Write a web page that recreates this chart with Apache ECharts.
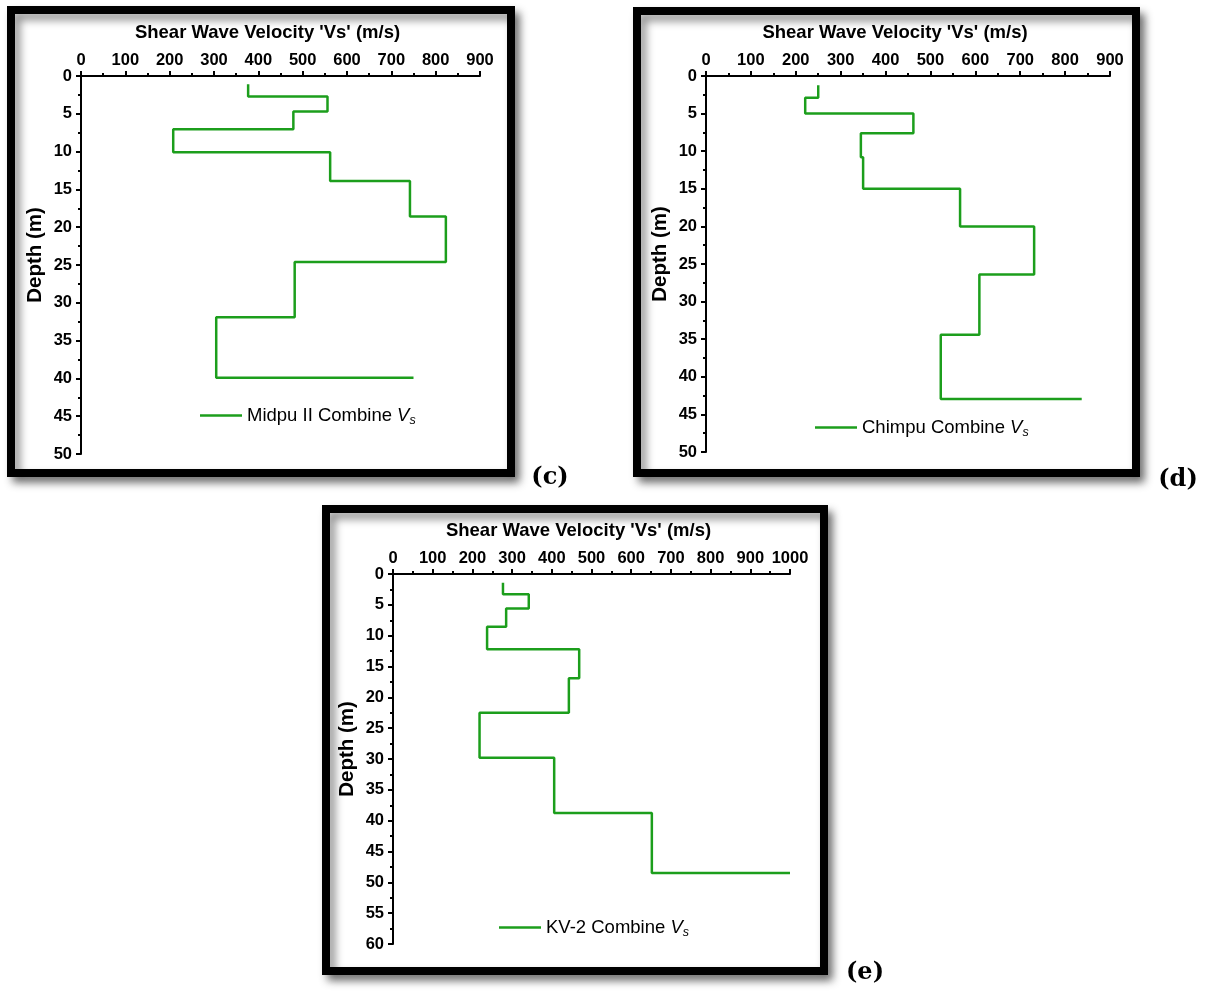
<!DOCTYPE html>
<html>
<head>
<meta charset="utf-8">
<title>Shear wave velocity profiles</title>
<script src="https://cdn.jsdelivr.net/npm/echarts@6/dist/echarts.min.js"></script>
<style>
  html, body { margin: 0; padding: 0; background: #fff; }
  #chart { width: 1205px; height: 991px; }
</style>
</head>
<body>
<div id="chart"></div>
<script>
// Layer tops (depth, m) and combined shear-wave velocities (m/s) for each site
const midpuDepth = [1.1, 2.7, 4.7, 7.05, 10.1, 13.9, 18.6, 24.6, 31.9, 39.9];
const midpuVs    = [377, 556, 479, 208, 562, 742, 823, 482, 305, 750];

const chimpuDepth = [1.24, 2.9, 5.0, 7.6, 10.8, 15.0, 20.0, 26.4, 34.4, 42.95];
const chimpuVs    = [250, 221, 462, 345, 350, 566, 731, 609, 523, 837];

const kv2Depth = [1.4, 3.3, 5.6, 8.55, 12.2, 16.9, 22.5, 29.8, 38.75, 48.5];
const kv2Vs    = [277, 342, 285, 237, 469, 443, 218, 406, 652, 1000];

// Axis ranges and tick steps
const vsTicksCD = [0, 900, 100];
const vsTicksE  = [0, 1000, 100];
const depthTicksCD = [0, 50, 5];
const depthTicksE  = [0, 60, 5];

const seriesNames = ['Midpu II Combine', 'Chimpu Combine', 'KV-2 Combine'];
const panelTags = ['(c)', '(d)', '(e)'];

const GREEN = '#1c9e1c';
const SANS = '"Liberation Sans", Arial, sans-serif';

// Turn layer tops + velocities into a stepped profile path
function profile(depths, vs) {
  const pts = [[vs[0], depths[0]]];
  for (let i = 1; i < depths.length; i++) {
    pts.push([vs[i - 1], depths[i]]);
    pts.push([vs[i], depths[i]]);
  }
  return pts;
}

const grids = [
  { left: 81,  top: 76,  width: 399, height: 378 },
  { left: 706, top: 76,  width: 404, height: 376 },
  { left: 393, top: 574, width: 397, height: 370 }
];

const plain = v => String(v);

function xAxisFor(idx, ticks) {
  return {
    gridIndex: idx, type: 'value', position: 'top',
    min: ticks[0], max: ticks[1], interval: ticks[2],
    name: "Shear Wave Velocity 'Vs' (m/s)",
    nameLocation: 'middle', nameGap: 34,
    nameTextStyle: { fontFamily: SANS, fontWeight: 'bold', fontSize: 18.5, color: '#000', padding: [0, 26, 0, 0] },
    axisLine: { show: true, onZero: false, lineStyle: { color: '#000', width: 2 } },
    axisTick: { show: true, inside: false, length: 5, lineStyle: { color: '#000', width: 2 } },
    minorTick: { show: true, splitNumber: 2, length: 3, lineStyle: { color: '#000', width: 2 } },
    axisLabel: { fontFamily: SANS, fontWeight: 'bold', fontSize: 16.5, color: '#000', margin: 7, formatter: plain },
    splitLine: { show: false }
  };
}

function yAxisFor(idx, ticks) {
  return {
    gridIndex: idx, type: 'value', inverse: true,
    min: ticks[0], max: ticks[1], interval: ticks[2],
    name: 'Depth (m)',
    nameLocation: 'middle', nameGap: 35, nameRotate: 90,
    nameTextStyle: { fontFamily: SANS, fontWeight: 'bold', fontSize: 20.5, color: '#000', padding: [0, 0, 0, 20] },
    axisLine: { show: true, onZero: false, lineStyle: { color: '#000', width: 2 } },
    axisTick: { show: true, inside: false, length: 5, lineStyle: { color: '#000', width: 2 } },
    minorTick: { show: true, splitNumber: 2, length: 3, lineStyle: { color: '#000', width: 2 } },
    axisLabel: { fontFamily: SANS, fontWeight: 'bold', fontSize: 16.5, color: '#000', margin: 9, formatter: plain },
    splitLine: { show: false }
  };
}

function seriesFor(idx, name, depths, vs) {
  return {
    type: 'line', name: name,
    xAxisIndex: idx, yAxisIndex: idx,
    data: profile(depths, vs),
    showSymbol: false, symbol: 'none',
    clip: false, animation: false,
    lineStyle: { color: GREEN, width: 2.5 },
    itemStyle: { color: GREEN }
  };
}

function legendFor(name, left, top) {
  return {
    data: [name], left: left, top: top, padding: 0,
    icon: 'rect', itemWidth: 42, itemHeight: 2.5, itemGap: 0,
    selectedMode: false,
    formatter: n => '{n|' + n + ' }{v|V}{s|s}',
    textStyle: {
      rich: {
        n: { fontFamily: SANS, fontSize: 18.5, color: '#000', lineHeight: 28, verticalAlign: 'middle' },
        v: { fontFamily: SANS, fontSize: 18.5, fontStyle: 'italic', color: '#000', lineHeight: 28, verticalAlign: 'middle' },
        s: { fontFamily: SANS, fontSize: 12.5, fontStyle: 'italic', color: '#000', lineHeight: 28, verticalAlign: 'bottom', padding: [0, 0, 2, 0] }
      }
    }
  };
}

// Black framed boxes with soft drop shadows, plus panel tags
const frames = [
  { x: 11,  y: 10,  w: 500, h: 463 },
  { x: 637, y: 11,  w: 499, h: 462 },
  { x: 326, y: 509, w: 498, h: 462 }
];
const tagPos = [[550, 478], [1178, 480], [865, 973]];

const graphic = [];
frames.forEach(f => {
  graphic.push({
    type: 'rect', z: -10, silent: true,
    shape: { x: f.x, y: f.y, width: f.w, height: f.h },
    style: {
      fill: '#fff', stroke: '#000', lineWidth: 8,
      shadowBlur: 8, shadowOffsetX: 5, shadowOffsetY: 6, shadowColor: 'rgba(0,0,0,0.45)'
    }
  });
});
panelTags.forEach((t, i) => {
  graphic.push({
    type: 'text', z: 10, silent: true,
    x: tagPos[i][0], y: tagPos[i][1],
    style: {
      text: t, fill: '#000', align: 'center', verticalAlign: 'middle',
      font: 'bold 24px "DejaVu Serif", serif'
    }
  });
});

const chart = echarts.init(document.getElementById('chart'), null, { renderer: 'canvas' });
chart.setOption({
  backgroundColor: '#fff',
  animation: false,
  grid: grids.map(g => Object.assign({ containLabel: false }, g)),
  xAxis: [xAxisFor(0, vsTicksCD), xAxisFor(1, vsTicksCD), xAxisFor(2, vsTicksE)],
  yAxis: [yAxisFor(0, depthTicksCD), yAxisFor(1, depthTicksCD), yAxisFor(2, depthTicksE)],
  legend: [
    legendFor(seriesNames[0], 200, 406),
    legendFor(seriesNames[1], 815, 418),
    legendFor(seriesNames[2], 499, 918)
  ],
  series: [
    seriesFor(0, seriesNames[0], midpuDepth, midpuVs),
    seriesFor(1, seriesNames[1], chimpuDepth, chimpuVs),
    seriesFor(2, seriesNames[2], kv2Depth, kv2Vs)
  ],
  graphic: graphic
});
</script>
</body>
</html>
